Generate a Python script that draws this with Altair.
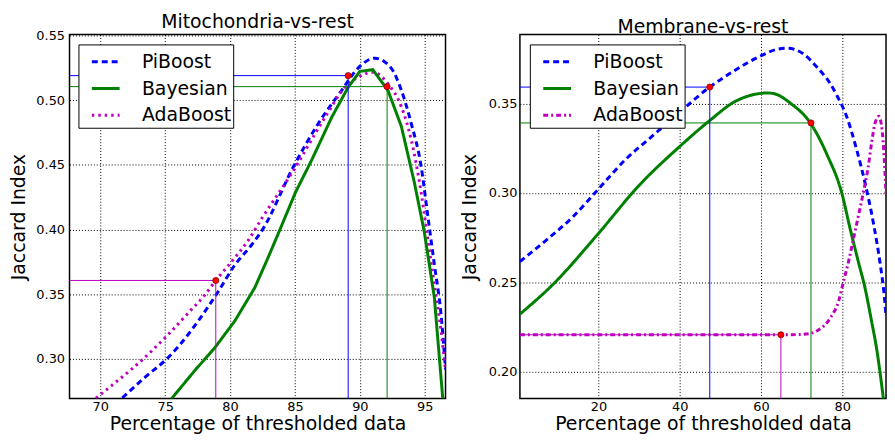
import altair as alt
import pandas as pd

SERIES = ["PiBoost", "Bayesian", "AdaBoost"]
COLORS = ["#0000ff", "#008000", "#bf00bf"]
FONT = "DejaVu Sans"

# ---------------- Mitochondria-vs-rest ----------------
mito_pi_x = [71.7, 73.5, 75.27, 76.8, 78.08, 79.1, 80.37, 81.64, 82.5, 84.9, 86.8, 88.6,
             89.88, 91.15, 92.4, 93.2, 93.96, 94.72, 95.23, 95.74, 96.25, 96.6]
mito_pi_y = [0.270, 0.2863, 0.3015, 0.3193, 0.337, 0.3523, 0.3727, 0.3879, 0.400, 0.449, 0.482, 0.5076,
             0.525, 0.5325, 0.525, 0.5076, 0.482, 0.449, 0.411, 0.373, 0.335, 0.292]
mito_bay_x = [75.3, 77.3, 78.85, 80.37, 81.9, 82.9, 83.76, 85.04, 86.3, 87.84, 89.1, 90.0,
              91.0, 92.17, 93.2, 94.2, 94.97, 95.74, 96.4]
mito_bay_y = [0.267, 0.2913, 0.309, 0.3295, 0.355, 0.3777, 0.398, 0.4288, 0.454, 0.487, 0.510, 0.5223,
              0.5236, 0.5075, 0.4797, 0.4364, 0.398, 0.3475, 0.268]
mito_ada_x = [69.67, 70.94, 72.47, 74.0, 75.27, 76.8, 78.08, 78.9, 80.1, 81.4, 82.5, 84.78,
              87.33, 88.85, 89.88, 91.0, 92.17, 93.2, 93.96, 94.72, 95.23, 95.74, 96.25, 96.6]
mito_ada_y = [0.2697, 0.28, 0.2926, 0.3066, 0.3193, 0.3358, 0.3498, 0.3607, 0.375, 0.3917, 0.4095, 0.444,
              0.487, 0.510, 0.5178, 0.5216, 0.5127, 0.4949, 0.4694, 0.4288, 0.3932, 0.3577, 0.322, 0.2916]
mito_ref_x = [89.1, 92.1, 78.9]
mito_ref_y = [0.519, 0.5105, 0.3607]
mito_xlim = [67.63, 96.6]
mito_ylim = [0.2694, 0.5508]
mito_xticks = [70, 75, 80, 85, 90, 95]
mito_yticks = [0.30, 0.35, 0.40, 0.45, 0.50, 0.55]

# ---------------- Membrane-vs-rest ----------------
mem_pi_x = [0.7, 7.19, 13.67, 20, 26.67, 33.15, 39.65, 47.37, 53.45, 59.93, 64.0, 66.5, 70.57,
            73.8, 77.07, 78.7, 81.12, 83.55, 85.6, 87.62, 89.25, 90.46, 90.76]
mem_pi_y = [0.2616, 0.2736, 0.2865, 0.3022, 0.3188, 0.3317, 0.3446, 0.3594, 0.3686, 0.3769, 0.3806, 0.3812, 0.3778,
            0.3705, 0.3612, 0.3546, 0.3426, 0.3242, 0.3057, 0.2836, 0.2614, 0.2393, 0.231]
mem_bay_x = [0.7, 8.8, 20, 29.9, 40.06, 47.37, 53.45, 57.5, 61.56, 63.27, 67.33, 72.2, 76.25,
             79.9, 81.94, 83.96, 85.6, 87.2, 88.4, 90.05, 90.3]
mem_bay_y = [0.2321, 0.2487, 0.2773, 0.304, 0.3262, 0.3406, 0.3511, 0.3548, 0.3561, 0.3557, 0.3502, 0.3391, 0.3215,
             0.2998, 0.2799, 0.2614, 0.2467, 0.2282, 0.2134, 0.186, 0.1815]
mem_ada_x = [0.7, 64.9, 69.0, 72.2, 73.8, 77.07, 79.1, 80.31, 81.53, 82.75, 83.97, 85.18, 86.4,
             87.2, 88.03, 89.0, 89.8, 90.3, 90.76]
mem_ada_y = [0.2205, 0.2205, 0.2206, 0.2213, 0.2227, 0.230, 0.2393, 0.2504, 0.2614, 0.2743, 0.2872, 0.3002, 0.3149,
             0.3279, 0.3389, 0.343, 0.3352, 0.3204, 0.299]
mem_ref_x = [47.4, 72.3, 64.9]
mem_ref_y = [0.3594, 0.3393, 0.2205]
mem_xlim = [0.69, 90.76]
mem_ylim = [0.1847, 0.3889]
mem_xticks = [20, 40, 60, 80]
mem_yticks = [0.20, 0.25, 0.30, 0.35]


def lines_df(xs, ys):
    rows = []
    for s, x, y in zip(SERIES, xs, ys):
        for i, (a, b) in enumerate(zip(x, y)):
            rows.append({"series": s, "x": a, "y": b, "i": i})
    return pd.DataFrame(rows)


def ref_df(rx, ry, xlim, ylim):
    return pd.DataFrame({"series": SERIES, "x": rx, "y": ry, "c": COLORS,
                         "x0": [xlim[0]] * 3, "y0": [ylim[0]] * 3})


def panel(title, xs, ys, rx, ry, xlim, ylim, xticks, yticks, dashes, linear_series,
          width, height, lab_pad, title_pad, legend_xy):
    df = lines_df(xs, ys)
    rdf = ref_df(rx, ry, xlim, ylim)
    xsc = alt.Scale(domain=xlim, nice=False, zero=False)
    ysc = alt.Scale(domain=ylim, nice=False, zero=False)
    xax = alt.Axis(values=xticks, format="d", title="Percentage of thresholded data",
                   labelPadding=2, titlePadding=1, titleFontSize=19)
    yax = alt.Axis(values=yticks, format=".2f", title="Jaccard Index",
                   labelPadding=lab_pad, titlePadding=title_pad)
    leg = alt.Legend(orient="none", legendX=legend_xy[0], legendY=legend_xy[1], title=None,
                     fillColor="white", strokeColor="black", padding=2, rowPadding=1,
                     symbolType="stroke", symbolSize=784, symbolStrokeWidth=3,
                     symbolOffset=10, labelOffset=21, labelFontSize=19, labelFont=FONT,
                     labelColor="black", cornerRadius=0)
    color = alt.Color("series:N", scale=alt.Scale(domain=SERIES, range=COLORS), legend=leg)
    dash = alt.StrokeDash("series:N", scale=alt.Scale(domain=SERIES, range=dashes), legend=leg)

    base = alt.Chart(df)
    smooth = base.transform_filter(
        alt.FieldOneOfPredicate(field="series", oneOf=[s for s in SERIES if s not in linear_series])
    ).mark_line(strokeWidth=3, interpolate="monotone", clip=True).encode(
        x=alt.X("x:Q", scale=xsc, axis=xax), y=alt.Y("y:Q", scale=ysc, axis=yax),
        color=color, strokeDash=dash, order="i:Q", detail="series:N")
    layers = [smooth]
    if linear_series:
        lin = base.transform_filter(
            alt.FieldOneOfPredicate(field="series", oneOf=linear_series)
        ).mark_line(strokeWidth=3, interpolate="linear", clip=True).encode(
            x=alt.X("x:Q", scale=xsc, axis=xax), y=alt.Y("y:Q", scale=ysc, axis=yax),
            color=color, strokeDash=dash, order="i:Q", detail="series:N")
        layers.append(lin)

    rbase = alt.Chart(rdf)
    hrule = rbase.mark_rule(strokeWidth=1, clip=True).encode(
        x=alt.X("x0:Q", scale=xsc), x2="x:Q", y=alt.Y("y:Q", scale=ysc),
        color=alt.Color("c:N", scale=None))
    vrule = rbase.mark_rule(strokeWidth=1, clip=True).encode(
        x=alt.X("x:Q", scale=xsc), y=alt.Y("y0:Q", scale=ysc), y2="y:Q",
        color=alt.Color("c:N", scale=None))
    dots = rbase.mark_circle(size=38, color="#ff0000", opacity=1, stroke="#880000",
                             strokeWidth=0.8, clip=True).encode(
        x=alt.X("x:Q", scale=xsc), y=alt.Y("y:Q", scale=ysc))
    layers += [hrule, vrule, dots]
    return alt.layer(*layers).properties(
        width=width, height=height,
        title=alt.TitleParams(title, fontSize=19, font=FONT, fontWeight="normal",
                              color="black", offset=-2))


left = panel("Mitochondria-vs-rest", [mito_pi_x, mito_bay_x, mito_ada_x],
             [mito_pi_y, mito_bay_y, mito_ada_y], mito_ref_x, mito_ref_y,
             mito_xlim, mito_ylim, mito_xticks, mito_yticks,
             [[6, 4], [1, 0], [2.5, 4]], ["Bayesian"], 379, 367, 5, 7, [9, 10])
right = panel("Membrane-vs-rest", [mem_pi_x, mem_bay_x, mem_ada_x],
              [mem_pi_y, mem_bay_y, mem_ada_y], mem_ref_x, mem_ref_y,
              mem_xlim, mem_ylim, mem_xticks, mem_yticks,
              [[6, 4], [1, 0], [5, 3, 2, 3]], [], 369, 367, 3, 9, [10, 10])

chart = alt.hconcat(left, right, spacing=75, bounds="flush").resolve_scale(
    color="independent", strokeDash="independent", x="independent", y="independent"
).resolve_legend(color="independent", strokeDash="independent").properties(
    padding={"left": 1, "top": 2, "right": 0, "bottom": 0}
).configure_axis(
    labelFont=FONT, titleFont=FONT, labelFontSize=13, titleFontSize=19,
    titleFontWeight="normal", labelColor="black", titleColor="black",
    grid=True, gridColor="black", gridDash=[1, 2], gridOpacity=1, gridWidth=1,
    ticks=False, domain=False
).configure_view(stroke="black", strokeWidth=1.5)

chart.save("out.html", embed_options={"renderer": "svg", "actions": False})
